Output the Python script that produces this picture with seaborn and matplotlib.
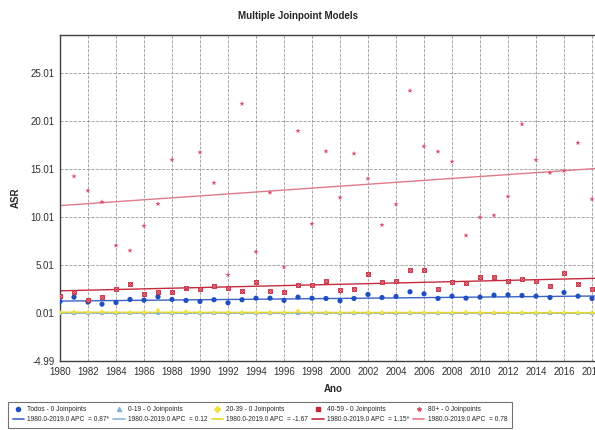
import matplotlib
matplotlib.use("Agg")
import matplotlib.pyplot as plt
import seaborn as sns
import pandas as pd
from matplotlib.lines import Line2D

# ------------------------------------------
# dados (ASR por ano)
# ------------------------------------------
years = list(range(1980, 2019))

todos = [1.22, 1.67, 1.15, 0.94, 1.11, 1.43, 1.36, 1.71, 1.43, 1.33,
         1.22, 1.40, 1.08, 1.40, 1.56, 1.56, 1.33, 1.67, 1.56, 1.53,
         1.29, 1.53, 1.95, 1.63, 1.74, 2.23, 2.02, 1.53, 1.77, 1.56,
         1.67, 1.88, 1.91, 1.84, 1.77, 1.63, 2.16, 1.77, 1.53]

age_0_19 = [0.02, 0.01, 0.02, 0.01, 0.02, 0.02, 0.01, 0.02, 0.02, 0.01,
            0.02, 0.02, 0.01, 0.02, 0.02, 0.01, 0.02, 0.02, 0.01, 0.02,
            0.02, 0.01, 0.02, 0.02, 0.01, 0.02, 0.02, 0.01, 0.02, 0.02,
            0.01, 0.02, 0.02, 0.01, 0.02, 0.02, 0.01, 0.02, 0.02]

age_20_39 = [0.08, 0.12, 0.08, 0.14, 0.08, 0.08, 0.07, 0.30, 0.08, 0.15,
             0.08, 0.07, 0.08, 0.08, 0.07, 0.08, 0.08, 0.24, 0.07, 0.08,
             0.07, 0.08, 0.07, 0.07, 0.08, 0.07, 0.06, 0.07, 0.06, 0.10,
             0.06, 0.06, 0.07, 0.06, 0.06, 0.10, 0.06, 0.05, 0.06]

age_40_59 = [1.77, 2.19, 1.33, 1.71, 2.47, 3.09, 2.02, 2.19, 2.16, 2.64,
             2.54, 2.78, 2.64, 2.26, 3.27, 2.29, 2.22, 2.92, 2.89, 3.33,
             2.44, 2.47, 4.06, 3.20, 3.33, 4.48, 4.48, 2.57, 3.20, 3.13,
             3.75, 3.79, 3.40, 3.58, 3.40, 2.81, 4.17, 2.99, 2.57]

age_80 = [None, 14.27, 12.78, 11.60, 7.05, 6.53, 9.10, 11.40, 16.00, 2.50,
          16.77, 13.58, 4.00, 21.84, 6.40, 12.57, 4.79, 19.00, 9.31, 16.88,
          12.05, 16.64, 14.03, 9.20, 11.35, 23.20, 17.40, 16.85, 15.80, 8.10,
          10.00, 10.20, 12.16, 19.70, 15.98, 14.63, 14.84, 17.76, 11.88]

series_names = ["Todos", "0-19", "20-39", "40-59", "80+"]
apc_labels = ["0.87*", "0.12", "-1.67", "1.15*", "0.78"]

# linhas de tendência (joinpoint, 1980-2019)
trend_years = [1980, 2019]
trend_start = [1.26, 0.02, 0.10, 2.33, 11.22]
trend_end = [1.80, 0.03, 0.05, 3.66, 15.16]

y_ticks = [-4.99, 0.01, 5.01, 10.01, 15.01, 20.01, 25.01]
x_ticks = list(range(1980, 2020, 2))

# cores / marcadores
point_colors = ["#1f4fbf", "#7fb2dc", "#f2e23a", "#c0283c", "#d9506a"]
line_colors = ["#3b62c6", "#86b6e0", "#e6d82a", "#c62a3c", "#e07a88"]
markers = ["o", "^", "D", "s", "*"]
sizes = [14, 9, 6, 8, 16]

sns.set_style("white")
plt.rcParams['font.family'] = ['Liberation Sans', 'DejaVu Sans']

df = pd.DataFrame({
    "Ano": years * 5,
    "ASR": todos + age_0_19 + age_20_39 + age_40_59 + age_80,
    "grupo": sum([[n] * len(years) for n in series_names], []),
})
df["ASR"] = pd.to_numeric(df["ASR"])

fig = plt.figure(figsize=(5.95, 4.30), dpi=100)
# o eixo passa da borda direita (como no original, recortado em 2018)
ax = fig.add_axes([60 / 595, 69 / 430, 546 / 595, 326 / 430])

ax.set_xlim(1980, 2019)
ax.set_ylim(-4.99, 29.01)

ax.set_xticks(x_ticks)
ax.set_yticks(y_ticks)
ax.set_yticklabels([f"{v:.2f}" for v in y_ticks])
ax.grid(True, linestyle="--", color="#9a9a9a", linewidth=0.6)
ax.set_axisbelow(True)

# linhas de tendência
for i, name in enumerate(series_names):
    sns.lineplot(x=trend_years, y=[trend_start[i], trend_end[i]],
                 color=line_colors[i], linewidth=1.0, ax=ax, zorder=2)

# pontos observados
for i, name in enumerate(series_names):
    sub = df[df["grupo"] == name].dropna()
    if name == "40-59":
        sns.scatterplot(data=sub, x="Ano", y="ASR", marker="s", s=sizes[i],
                        color="#f2b8c0", edgecolor=point_colors[i],
                        linewidth=0.6, ax=ax, zorder=3, legend=False)
        sns.scatterplot(data=sub, x="Ano", y="ASR", marker="x", s=5,
                        color=point_colors[i], linewidth=0.6, ax=ax,
                        zorder=4, legend=False)
    else:
        sns.scatterplot(data=sub, x="Ano", y="ASR", marker=markers[i],
                        s=sizes[i], color=point_colors[i], edgecolor="none",
                        ax=ax, zorder=3, legend=False)

for side in ["left", "bottom", "top"]:
    ax.spines[side].set_color("#404040")
    ax.spines[side].set_linewidth(1.0)
ax.tick_params(axis="both", labelsize=7, length=2, pad=2, colors="#303030")

ax.set_xlabel("Ano", fontsize=7, fontweight="bold", labelpad=5)
ax.set_ylabel("ASR", fontsize=7, fontweight="bold", labelpad=7)

fig.text(0.5, 0.963, "Multiple Joinpoint Models", ha="center", va="center",
         fontsize=7, fontweight="bold")

# legenda: marcador + linha de tendência por grupo
handles, labels = [], []
for i, name in enumerate(series_names):
    handles.append(Line2D([], [], linestyle="none", marker=markers[i],
                          markersize=3, color=point_colors[i]))
    labels.append(f"{name} - 0 Joinpoints")
    handles.append(Line2D([], [], color=line_colors[i], linewidth=1.2))
    labels.append(f"1980.0-2019.0 APC  = {apc_labels[i]}")

leg = fig.legend(handles, labels, ncol=5, loc="lower left",
                 bbox_to_anchor=(8 / 595, 2 / 430),
                 fontsize=4.8, frameon=True, fancybox=False,
                 borderaxespad=0, handlelength=1.7, handletextpad=0.5,
                 labelspacing=0.45, columnspacing=0.6, borderpad=0.7)
leg.get_frame().set_edgecolor("#505050")
leg.get_frame().set_linewidth(0.8)

fig.savefig("out.png", dpi=100)
